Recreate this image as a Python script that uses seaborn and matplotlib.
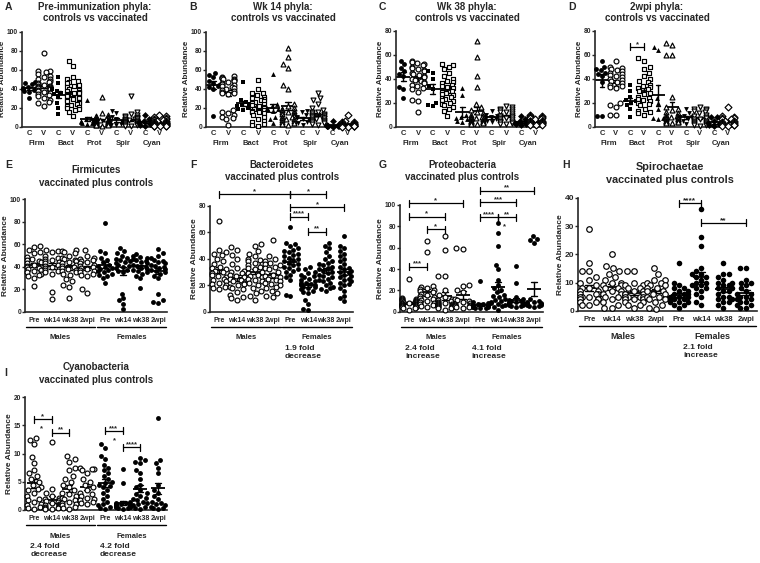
import pandas as pd
import seaborn as sns
import matplotlib.pyplot as plt
import matplotlib.transforms as mtransforms

# ---- top row: phyla, controls (C) vs vaccinated (V) ----
phyla = ["Firm", "Bact", "Prot", "Spir", "Cyan"]
phyla_markers = ["o", "s", "^", "v", "D"]

# order: Firm C, Firm V, Bact C, Bact V, Prot C, Prot V, Spir C, Spir V, Cyan C, Cyan V
pre_phyla = [
    [47, 46, 45, 42, 41, 40, 40, 39, 38, 37, 30],
    [78, 59, 59, 58, 55, 53, 52, 50, 50, 48, 47, 46, 45, 44, 43, 43, 42, 42, 41, 41, 40, 40,
     39, 38, 38, 37, 36, 35, 34, 33, 32, 30, 28, 26, 25, 22],
    [52, 46, 40, 38, 36, 34, 32, 25, 20, 13],
    [69, 64, 52, 50, 48, 47, 46, 44, 43, 42, 40, 39, 38, 37, 36, 35, 34, 33, 32, 31, 30, 29,
     28, 27, 26, 25, 24, 23, 22, 21, 20, 19, 18, 16, 11],
    [28, 9, 8, 7, 6, 5, 5, 4, 4, 3],
    [31, 14, 12, 11, 10, 10, 9, 9, 8, 8, 8, 7, 7, 7, 6, 6, 6, 5, 5, 5, 5, 4, 4, 4, 4, 3, 3,
     3, 2, 2, 2, 1],
    [17, 14, 10, 8, 6, 5, 4, 3, 2, 2],
    [32, 15, 13, 12, 11, 10, 10, 9, 9, 8, 8, 8, 7, 7, 7, 6, 6, 6, 5, 5, 5, 5, 4, 4, 4, 3, 3,
     3, 2, 2, 1, 1],
    [12, 8, 7, 6, 5, 4, 4, 3, 2, 1],
    [12, 11, 10, 9, 8, 8, 7, 7, 6, 6, 5, 5, 5, 4, 4, 4, 3, 3, 3, 3, 2, 2, 2, 2, 1, 1, 1, 1,
     0.5, 0.5],
]

wk14_phyla = [
    [57, 54, 52, 48, 46, 44, 43, 42, 40, 11],
    [53, 52, 51, 51, 50, 50, 49, 48, 47, 46, 45, 44, 43, 42, 41, 40, 39, 38, 37, 36, 35, 34,
     18, 16, 14, 12, 10, 9, 8, 2],
    [47, 28, 26, 24, 23, 22, 21, 20, 19, 18],
    [49, 40, 36, 35, 33, 31, 30, 29, 28, 27, 26, 25, 24, 23, 22, 21, 20, 19, 18, 17, 16, 15,
     14, 12, 10, 8, 6, 5, 3, 2, 1],
    [56, 24, 22, 20, 19, 18, 17, 10, 8, 4],
    [83, 73, 66, 62, 44, 40, 24, 22, 20, 19, 18, 17, 16, 15, 14, 13, 12, 11, 10, 10, 9, 8, 8,
     7, 6, 5, 4, 3, 2],
    [17, 15, 12, 10, 9, 8, 7, 5, 4, 2],
    [36, 30, 28, 24, 20, 18, 16, 15, 14, 13, 12, 12, 11, 11, 10, 10, 9, 9, 8, 8, 7, 7, 6, 6,
     5, 5, 4, 3, 2],
    [6, 3, 2, 2, 1, 1, 1, 0.5, 0.5, 0.2],
    [12, 6, 5, 5, 4, 4, 3, 3, 3, 2, 2, 2, 2, 1, 1, 1, 1, 1, 0.5, 0.5, 0.5, 0.2, 0.2],
]

wk38_phyla = [
    [55, 52, 49, 46, 44, 42, 33, 31, 24],
    [55, 54, 53, 52, 51, 50, 49, 48, 47, 46, 45, 44, 43, 42, 41, 40, 39, 38, 37, 36, 35, 34,
     32, 31, 29, 22, 21, 12],
    [46, 45, 40, 34, 31, 20, 18, 17],
    [52, 51, 50, 48, 45, 42, 40, 38, 37, 36, 35, 34, 33, 32, 30, 29, 28, 27, 26, 25, 24, 23,
     22, 21, 20, 19, 18, 16, 15, 13, 9],
    [32, 26, 10, 8, 7, 6, 5, 4],
    [71, 58, 42, 33, 19, 16, 14, 12, 11, 10, 9, 9, 8, 8, 7, 7, 6, 6, 6, 5, 5, 5, 4, 4, 4, 3,
     3, 2, 2],
    [13, 10, 9, 8, 7, 6, 5, 4],
    [17, 16, 15, 15, 14, 13, 12, 12, 11, 10, 9, 9, 8, 8, 7, 7, 6, 6, 5, 5, 4, 4, 3, 3, 2, 2],
    [9, 6, 5, 4, 3, 2, 2, 1],
    [10, 9, 9, 8, 8, 7, 7, 6, 6, 5, 5, 5, 4, 4, 4, 3, 3, 3, 2, 2, 2, 1, 1, 1],
]

wpi_phyla = [
    [55, 50, 48, 47, 45, 44, 42, 37, 9, 9],
    [55, 50, 49, 48, 47, 46, 45, 44, 43, 42, 41, 40, 39, 38, 37, 36, 35, 34, 33, 32, 20, 18,
     16, 10, 10],
    [35, 30, 25, 22, 21, 20, 18, 15, 8],
    [57, 55, 50, 48, 45, 42, 40, 38, 37, 35, 34, 33, 32, 31, 30, 28, 27, 25, 24, 23, 22, 21,
     20, 19, 18, 15, 13, 12, 11, 10],
    [66, 64, 24, 20, 15, 7, 7, 6],
    [70, 68, 60, 60, 25, 16, 15, 14, 12, 11, 10, 9, 9, 8, 8, 7, 7, 6, 6, 6, 5, 5, 5, 4, 4, 4,
     3, 3],
    [15, 11, 9, 8, 8, 7, 6, 5, 2],
    [16, 15, 15, 14, 13, 12, 11, 10, 9, 8, 7, 6, 6, 5, 5, 4, 4, 3, 3, 2, 2, 1, 1, 0.5],
    [8, 8, 5, 3, 2, 2, 1, 0.5],
    [16, 9, 8, 7, 7, 6, 6, 5, 5, 4, 4, 3, 3, 2, 2, 2, 1, 1, 1, 0.5, 0.5],
]

# ---- lower panels: males (open) then females (filled), by time point ----
times = ["Pre", "wk14", "wk38", "2wpi"]

firmicutes = [
    [59, 58, 55, 53, 52, 49, 47, 46, 45, 44, 43, 42, 41, 40, 40, 39, 38, 37, 36, 35, 34, 33,
     32, 30, 23],
    [55, 54, 53, 50, 48, 47, 46, 45, 44, 43, 42, 41, 40, 39, 38, 37, 36, 35, 34, 18, 11],
    [55, 54, 53, 52, 50, 48, 47, 46, 45, 44, 43, 42, 41, 40, 39, 38, 37, 36, 35, 34, 33, 29,
     27, 24, 22, 12],
    [55, 50, 48, 47, 46, 45, 44, 43, 42, 41, 40, 39, 38, 37, 36, 35, 34, 33, 32, 20, 17],
    [79, 54, 52, 48, 46, 44, 42, 41, 40, 39, 38, 37, 36, 35, 34, 33, 32, 30, 26],
    [57, 54, 52, 50, 48, 47, 46, 45, 44, 43, 42, 41, 40, 39, 37, 36, 35, 16, 12, 10, 7, 2],
    [51, 50, 49, 48, 47, 46, 45, 44, 43, 42, 41, 40, 39, 38, 37, 36, 35, 34, 32, 30, 21],
    [56, 52, 50, 48, 46, 45, 44, 43, 42, 41, 40, 39, 38, 37, 36, 35, 34, 32, 30, 16, 10, 9, 8],
]

bacteroidetes = [
    [69, 47, 45, 44, 43, 40, 38, 36, 34, 33, 32, 31, 30, 29, 28, 27, 26, 25, 24, 23, 22, 21,
     20, 19, 18, 17],
    [49, 47, 43, 40, 36, 33, 31, 30, 29, 28, 27, 26, 25, 24, 23, 22, 21, 20, 19, 18, 17, 15,
     13, 11, 10, 9],
    [51, 50, 46, 44, 42, 40, 39, 38, 37, 36, 35, 34, 33, 32, 30, 29, 28, 27, 26, 25, 24, 23,
     22, 20, 18, 16, 14, 12, 9],
    [54, 42, 40, 38, 37, 36, 35, 34, 33, 32, 30, 28, 27, 26, 25, 24, 23, 22, 21, 20, 19, 18,
     16, 14, 12, 11],
    [64, 52, 51, 50, 48, 47, 46, 45, 44, 43, 42, 41, 40, 39, 38, 37, 36, 35, 34, 33, 32, 31,
     30, 28, 26, 24, 13, 12],
    [34, 32, 30, 29, 28, 27, 26, 25, 24, 23, 22, 22, 21, 21, 20, 20, 19, 19, 18, 17, 16, 15,
     14, 9, 6, 2, 1],
    [52, 50, 48, 45, 42, 40, 38, 37, 36, 35, 34, 33, 32, 31, 30, 29, 28, 27, 26, 25, 24, 23,
     22, 20, 19, 18, 17, 16],
    [57, 50, 48, 46, 44, 42, 40, 38, 36, 34, 33, 32, 31, 30, 29, 28, 27, 26, 25, 24, 23, 22,
     21, 20, 18, 16, 12, 10, 8],
]

proteobacteria = [
    [31, 13, 12, 12, 11, 11, 10, 10, 9, 9, 9, 8, 8, 8, 7, 7, 7, 6, 6, 6, 5, 5, 5, 4, 4, 3, 3, 2],
    [66, 56, 24, 23, 22, 21, 20, 19, 18, 17, 16, 15, 14, 13, 12, 11, 10, 9, 8, 7, 6, 5, 4],
    [71, 58, 33, 33, 20, 16, 14, 12, 11, 10, 9, 8, 8, 7, 7, 6, 6, 5, 5, 4, 4, 3, 3, 2],
    [60, 59, 25, 24, 20, 18, 12, 11, 10, 9, 8, 7, 6, 6, 5, 5, 4, 4, 3],
    [29, 9, 8, 7, 7, 6, 6, 6, 5, 5, 5, 5, 4, 4, 4, 3, 3, 3],
    [83, 74, 62, 44, 40, 30, 25, 22, 20, 18, 16, 15, 14, 12, 11, 10, 9, 8, 7, 6, 5, 4, 2],
    [43, 27, 14, 12, 11, 10, 10, 9, 9, 8, 8, 8, 7, 7, 7, 6, 6, 5, 5, 4],
    [71, 68, 67, 64, 12, 10, 9, 9, 8, 8, 7, 7, 6, 6, 5, 5, 4],
]

spirochaetae = [
    [29, 17, 14, 14, 12, 11, 10, 9, 8, 8, 7, 7, 6, 6, 6, 5, 5, 5, 4, 4, 4, 3, 3, 2, 2],
    [20, 16, 15, 14, 13, 12, 11, 10, 10, 9, 9, 8, 8, 7, 7, 6, 6, 5, 5, 4, 3, 2, 1, 1],
    [14, 14, 10, 9, 9, 8, 8, 7, 7, 6, 6, 6, 5, 5, 5, 5, 4, 4, 4, 3, 3, 2, 2, 1],
    [15, 13, 11, 11, 10, 10, 9, 9, 8, 8, 7, 7, 6, 6, 5, 5, 4, 4, 3, 2, 1, 0.5],
    [17, 10, 9, 8, 8, 7, 7, 6, 6, 6, 5, 5, 5, 4, 4, 4, 3, 3, 3, 2, 2, 1],
    [36, 26, 23, 15, 14, 13, 13, 12, 12, 11, 10, 10, 9, 9, 8, 8, 7, 6, 5, 3, 2],
    [17, 13, 13, 12, 11, 10, 10, 9, 9, 8, 8, 7, 7, 6, 5, 5, 4, 4, 3, 3, 2, 1],
    [15, 15, 11, 10, 10, 9, 8, 7, 6, 6, 5, 5, 4, 4, 3, 3, 2, 2, 1, 1],
]

cyanobacteria = [
    [12.7, 12.4, 11.6, 9.3, 8.3, 7, 6.5, 6, 5.5, 5, 4.5, 4, 3.8, 3.5, 3, 2.5, 2, 1.8, 1.5,
     1, 0.8, 0.5, 0.3, 0.2],
    [12.1, 3.7, 3, 2.5, 2.2, 2, 1.8, 1.6, 1.4, 1.2, 1, 0.9, 0.8, 0.7, 0.6, 0.5, 0.4, 0.3,
     0.2, 0.1],
    [9.5, 9, 8.5, 7.5, 7, 6, 5.5, 5, 4.5, 4, 3.5, 3, 2.8, 2.5, 2.2, 2, 1.8, 1.5, 1.2, 1, 0.8,
     0.6, 0.4, 0.2],
    [7.5, 7.3, 7.2, 7, 6.5, 5.5, 5, 4.5, 4, 3.5, 3, 2.8, 2.5, 2.2, 2, 1.8, 1.5, 1.2, 1],
    [11.6, 11, 9.5, 9, 8, 7.5, 7, 6.5, 6, 5.5, 5, 4.8, 4.5, 4.2, 4, 3.5, 3, 2.5, 2, 1.5, 1,
     0.8, 0.5, 0.3, 0.2],
    [7.2, 4.8, 1.5, 1.3, 1.2, 1.1, 1, 0.9, 0.9, 0.8, 0.8, 0.7, 0.7, 0.6, 0.6, 0.5, 0.5, 0.4,
     0.3, 0.2],
    [9.2, 8.8, 8.5, 8.3, 7, 6.5, 5.5, 4.5, 4, 3.5, 3, 2.8, 2.5, 2.2, 2, 1.8, 1.5, 1.2, 1,
     0.8, 0.5, 0.3, 0.2],
    [16.2, 8.8, 8.3, 7.5, 6.5, 4.5, 3.5, 3, 2.5, 2, 1.5, 1.2, 1, 0.8, 0.6, 0.4, 0.3, 0.2],
]

W, H = 760, 563
sns.set_style("ticks")
plt.rcParams["font.family"] = ["Liberation Sans", "DejaVu Sans"]
plt.rcParams["font.weight"] = "bold"
plt.rcParams["axes.labelweight"] = "bold"

fig = plt.figure(figsize=(W / 100, H / 100), dpi=100)


def add_axes(x0, x1, ytop, ybot):
    return fig.add_axes([x0 / W, 1 - ybot / H, (x1 - x0) / W, (ybot - ytop) / H])


def below(ax, px):
    # x in data, y = px pixels under the x axis
    return ax.get_xaxis_transform() + mtransforms.ScaledTranslation(0, -px / 100, fig.dpi_scale_trans)


def fig_text(x, y, s, size=7, **kw):
    fig.text(x / W, 1 - y / H, s, fontsize=size, fontweight="bold", va="center", **kw)


def long_frame(groups, order):
    return pd.DataFrame({"group": [name for name, g in zip(order, groups) for _ in g],
                         "value": [v for g in groups for v in g]})


def draw_groups(ax, groups, order, markers, filled, size, msize):
    df = long_frame(groups, order)
    for i, name in enumerate(order):
        n0 = len(ax.collections)
        sns.swarmplot(data=df[df["group"] == name], x="group", y="value", order=order,
                      color="black", marker=markers[i], size=size, warn_thresh=1, ax=ax)
        for coll in ax.collections[n0:]:
            coll.set_clip_on(False)
            if not filled[i]:
                coll.set_facecolor("white")
                coll.set_edgecolor("black")
                coll.set_linewidth(0.85)
    sns.pointplot(data=df, x="group", y="value", order=order, errorbar="se", color="black",
                  marker="_", markersize=msize, markeredgewidth=1.3, linestyle="none",
                  capsize=0.35, err_kws={"linewidth": 1.0}, ax=ax)


def finish(ax, n, ymax, ystep, ytick_size=4.8, ylabel_size=5.8):
    ax.set_xlim(-0.5, n - 0.5)
    ax.set_ylim(0, ymax)
    ax.set_yticks(range(0, ymax + 1, ystep))
    ax.set_xlabel("")
    ax.set_ylabel("Relative Abundance", fontsize=ylabel_size, labelpad=0.5)
    sns.despine(ax=ax)
    for s in ("left", "bottom"):
        ax.spines[s].set_linewidth(1.2)
    ax.tick_params(axis="y", labelsize=ytick_size, length=2, width=1, pad=0.8)


def bracket(ax, x1, x2, y, label, fs=5.5):
    y0, y1 = ax.get_ylim()
    d = 3.5 * (y1 - y0) / ax.bbox.height
    kw = dict(color="black", lw=0.9, clip_on=False)
    ax.plot([x1, x2], [y, y], **kw)
    ax.plot([x1, x1], [y - d, y + d], **kw)
    ax.plot([x2, x2], [y - d, y + d], **kw)
    ax.text((x1 + x2) / 2, y + d * 0.3, label, ha="center", va="baseline", fontsize=fs)


def phyla_panel(ax, groups, ymax, ystep):
    order = [f"{p} {c}" for p in phyla for c in ("C", "V")]
    markers = [m for m in phyla_markers for _ in range(2)]
    filled = [True, False] * 5
    draw_groups(ax, groups, order, markers, filled, 3.5, 10)
    finish(ax, 10, ymax, ystep)
    ax.set_xticks(range(10))
    ax.set_xticklabels(["C", "V"] * 5)
    ax.tick_params(axis="x", length=0, labelsize=5.5, pad=2.5)
    for k, p in enumerate(phyla):
        ax.text(2 * k + 0.5, 0, p, transform=below(ax, 17), ha="center", va="center",
                fontsize=5.5)


def sex_panel(ax, groups, ymax, ystep, tick_size=5, label_size=5.5, msize=10, ytick_size=4.8,
              size=3.5):
    order = [f"{s} {t}" for s in ("M", "F") for t in times]
    draw_groups(ax, groups, order, ["o"] * 8, [False] * 4 + [True] * 4, size, msize)
    finish(ax, 8, ymax, ystep, ytick_size=ytick_size, ylabel_size=6)
    ax.set_xticks(range(8))
    ax.set_xticklabels(times * 2)
    ax.tick_params(axis="x", length=0, labelsize=tick_size, pad=3.5)
    for a, b in [(-0.45, 3.45), (3.55, 7.45)]:
        ax.plot([a, b], [0, 0], transform=below(ax, 15), color="black", lw=1, clip_on=False)
    ax.text(1.5, 0, "Males", transform=below(ax, 26), ha="center", va="center",
            fontsize=label_size)
    ax.text(5.5, 0, "Females", transform=below(ax, 26), ha="center", va="center",
            fontsize=label_size)


def fold_note(ax, x, s):
    ax.text(x, 0, s, transform=below(ax, 33), ha="left", va="top", fontsize=6,
            linespacing=1.3)


# ---- top row ----
axA = add_axes(22, 167, 31.7, 126.7)
phyla_panel(axA, pre_phyla, 100, 20)
axB = add_axes(206, 355, 31.7, 126.7)
phyla_panel(axB, wk14_phyla, 100, 20)
axC = add_axes(396, 543, 30.7, 126.7)
phyla_panel(axC, wk38_phyla, 80, 20)
axD = add_axes(595, 735, 30.7, 126.7)
phyla_panel(axD, wpi_phyla, 80, 20)
bracket(axD, 2, 3, 66.5, "*")

for letter, lx, cx, line1 in [("A", 5, 95, "Pre-immunization phyla:"),
                              ("B", 189, 283, "Wk 14 phyla:"),
                              ("C", 379, 467, "Wk 38 phyla:"),
                              ("D", 568, 657, "2wpi phyla:")]:
    fig_text(lx, 7, letter, size=7.5, ha="left")
    fig_text(cx, 7, line1, ha="center")
    fig_text(cx, 18, "controls vs vaccinated", ha="center")

# ---- second row ----
axE = add_axes(25, 167, 199.5, 311.7)
sex_panel(axE, firmicutes, 100, 20)

axF = add_axes(210, 353, 206, 311.7)
sex_panel(axF, bacteroidetes, 80, 20)
bracket(axF, 0, 4, 89, "*")
bracket(axF, 4, 6, 89, "*")
bracket(axF, 4, 7, 79, "*")
bracket(axF, 4, 5, 72, "****")
bracket(axF, 5, 6, 60.5, "**")
fold_note(axF, 3.7, "1.9 fold\ndecrease")

axG = add_axes(400, 543, 205, 311.7)
sex_panel(axG, proteobacteria, 100, 20)
bracket(axG, 0, 3, 101.6, "*")
bracket(axG, 0, 2, 89, "*")
bracket(axG, 1, 2, 77.2, "*")
bracket(axG, 0, 1, 42.2, "***")
bracket(axG, 4, 7, 113.4, "**")
bracket(axG, 4, 6, 102.5, "***")
bracket(axG, 4, 5, 88.5, "****")
bracket(axG, 5, 6, 88.5, "**")
axG.text(5.35, 78, "*", ha="center", va="baseline", fontsize=5.5)
fold_note(axG, -0.2, "2.4 fold\nincrease")
fold_note(axG, 3.5, "4.1 fold\nincrease")

axH = add_axes(578, 757, 198, 310.7)
sex_panel(axH, spirochaetae, 40, 10, tick_size=5.5, label_size=6.5, msize=11.5, ytick_size=6,
          size=4.0)
bracket(axH, 4, 5, 38.1, "****", fs=6)
bracket(axH, 5, 7, 31.2, "**", fs=6)
fold_note(axH, 4.2, "2.1 fold\nincrease")

for letter, lx, cx, y1, line1, size in [("E", 5, 96, 170, "Firmicutes", 7),
                                        ("F", 190, 282, 165, "Bacteroidetes", 7),
                                        ("G", 379, 462, 165, "Proteobacteria", 7),
                                        ("H", 562, 670, 167, "Spirochaetae", 7.8)]:
    fig_text(lx, 165, letter, size=7.5, ha="left")
    fig_text(cx, y1, line1, size=size, ha="center")
    fig_text(cx, y1 + 12.5, "vaccinated plus controls", size=size, ha="center")

# ---- third row ----
axI = add_axes(25, 167, 397, 510)
sex_panel(axI, cyanobacteria, 20, 5)
bracket(axI, 0, 1, 16.05, "*")
bracket(axI, 1, 2, 13.7, "**")
bracket(axI, 4, 5, 14.0, "***")
bracket(axI, 5, 6, 11.1, "****")
axI.text(0.45, 14.2, "*", ha="center", va="baseline", fontsize=5.5)
axI.text(4.55, 12.0, "*", ha="center", va="baseline", fontsize=5.5)
fold_note(axI, -0.2, "2.4 fold\ndecrease")
fold_note(axI, 3.7, "4.2 fold\ndecrease")

fig_text(4, 373, "I", size=7.5, ha="left")
fig_text(96, 367, "Cyanobacteria", ha="center")
fig_text(96, 380, "vaccinated plus controls", ha="center")

fig.savefig("out.png", dpi=100)
